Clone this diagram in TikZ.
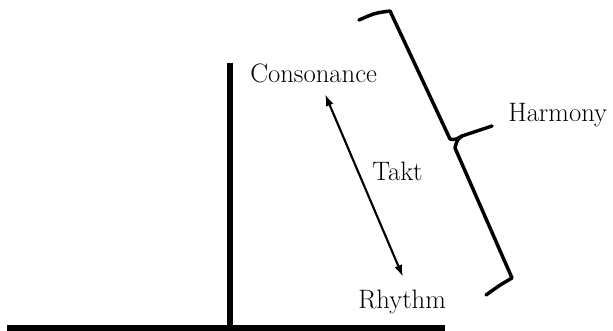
\documentclass[tikz,border=0pt]{standalone}
\usepackage{tikz}
\usetikzlibrary{arrows.meta,positioning,calc}
\begin{document}
\begin{tikzpicture}[>={Latex[length=9pt,width=6pt]}, x=0.75pt, y=-0.75pt]
  \tikzstyle{term}=[inner sep=0pt, anchor=base west, font=\fontsize{20}{24}\selectfont]
  \tikzstyle{axis}=[line width=4.5pt]
  \tikzstyle{brace}=[line width=2.6pt, line join=round, line cap=round]
  \useasboundingbox (0,0) rectangle (613,331);

  \node[term] (cons) at (250,83) {Consonance};
  \node[term] (takt) at (372,181) {Takt};
  \node[term] (rhythm) at (358,308) {Rhythm};
  \node[term] (harmony) at (508,122) {Harmony};

  % axes
  \coordinate (origin) at (230,328);
  \coordinate (top) at (230,63);
  \coordinate (left) at (7,328);
  \coordinate (right) at (445,328);
  \draw[axis] (top) -- (origin);
  \draw[axis] (left) -- (right);

  % Takt arrow
  \coordinate (ttop) at (325,94);
  \coordinate (tbot) at (403,277);
  \draw[<->, line width=1.6pt] (ttop) -- (tbot);

  % brace towards Harmony
  \coordinate (tip) at (492,126);
  \draw[brace] (359,20) .. controls (375,13) .. (390,11) -- (450,139)
    .. controls (455,140) .. (462,136) -- (tip);
  \draw[brace] (462,136) .. controls (457,140) .. (455,148) -- (512,278)
    .. controls (500,285) .. (486,295);
\end{tikzpicture}
\end{document}
